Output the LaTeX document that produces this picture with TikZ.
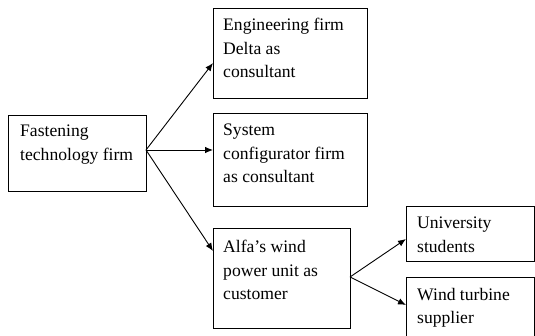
\documentclass[tikz,border=0pt]{standalone}
\usepackage{fontspec}
\setmainfont{Liberation Serif}
\usetikzlibrary{arrows.meta}
\begin{document}
\begin{tikzpicture}[x=1pt,y=-1pt,
  box/.style={draw, line width=0.9pt, inner sep=0pt, outer sep=0pt, rectangle},
  label/.style={anchor=north west, inner sep=0pt, align=left,
    font=\fontsize{17.6}{23.5}\selectfont},
  link/.style={line width=0.9pt, -{Latex[length=8pt,width=6.5pt]}}]
\useasboundingbox (0,0) rectangle (535,336);
\clip (0,0) rectangle (535,336);
% boxes
\node[box, minimum width=138pt, minimum height=76pt]  (fast) at (77,153) {};
\node[box, minimum width=154pt, minimum height=90pt]  (eng)  at (290,53) {};
\node[box, minimum width=154pt, minimum height=93pt]  (sys)  at (290,159.5) {};
\node[box, minimum width=137pt, minimum height=100pt] (alfa) at (281.5,278) {};
\node[box, minimum width=128pt, minimum height=55pt]  (uni)  at (470,233.5) {};
\node[box, minimum width=128pt, minimum height=68pt]  (wind) at (470,311) {};
% box texts, set from the upper left corner of each box
\node[label] (fastT) at ([xshift=12pt,yshift=-10pt]fast.north west) {Fastening\\technology firm};
\node[label] (engT)  at ([xshift=10pt,yshift=-10pt]eng.north west) {Engineering firm\\Delta as\\consultant};
\node[label] (sysT)  at ([xshift=10pt,yshift=-11pt]sys.north west) {System\\configurator firm\\as consultant};
\node[label] (alfaT) at ([xshift=10pt,yshift=-12pt]alfa.north west) {Alfa’s wind\\power unit as\\customer};
\node[label] (uniT)  at ([xshift=11pt,yshift=-11pt]uni.north west) {University\\students};
\node[label] (windT) at ([xshift=11pt,yshift=-11pt]wind.north west) {Wind turbine\\supplier};
% connectors
\draw[link] ([yshift=3pt]fast.east) -- ([yshift=-10pt]eng.west);
\draw[link] ([yshift=3pt]fast.east) -- ([yshift=9.5pt]sys.west);
\draw[link] ([yshift=3pt]fast.east) -- ([yshift=27pt]alfa.west);
\draw[link] ([yshift=1pt]alfa.east) -- ([yshift=-5.5pt]uni.west);
\draw[link] ([yshift=1pt]alfa.east) -- ([yshift=6pt]wind.west);
\end{tikzpicture}
\end{document}
